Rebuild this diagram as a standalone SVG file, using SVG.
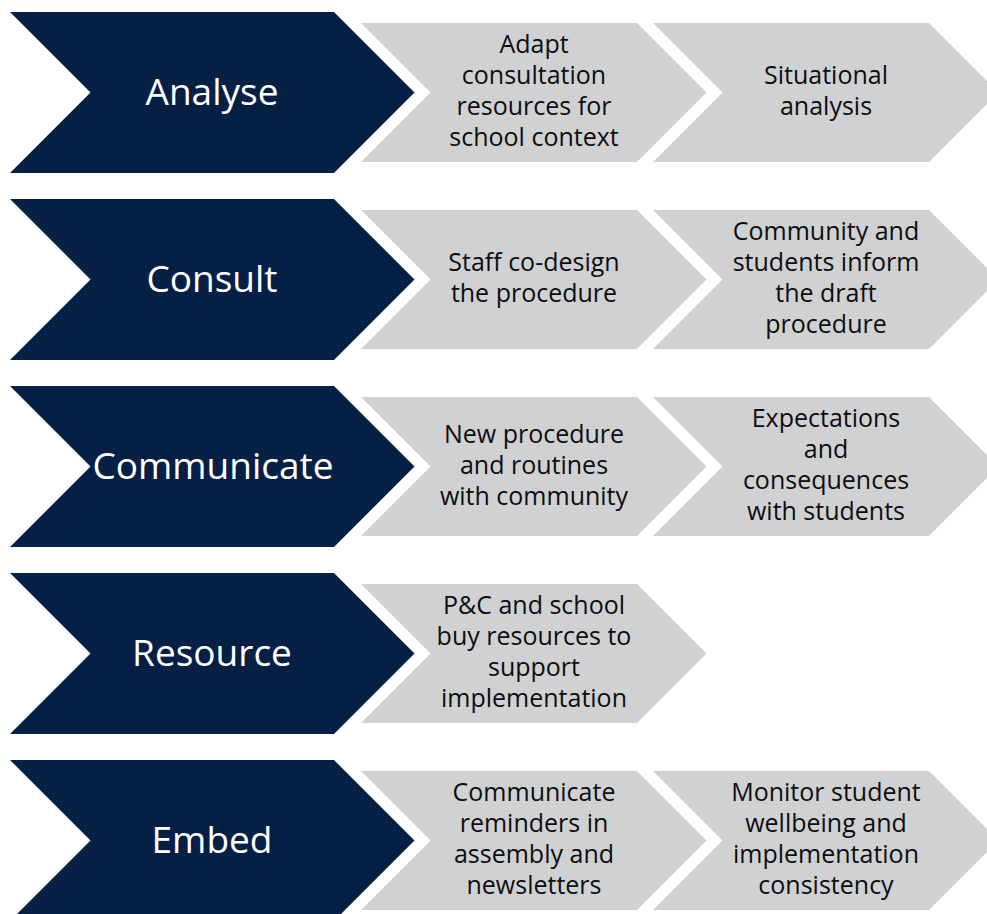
<svg xmlns="http://www.w3.org/2000/svg" width="987" height="914" viewBox="0 0 987 914">
<style>
.navy{fill:#061f45}
.gray{fill:#d0d1d3}
.nt{font-family:"Open Sans","Noto Sans",sans-serif;font-size:37px;fill:#ffffff;text-anchor:middle}
.gt{font-family:"Open Sans","Noto Sans",sans-serif;font-size:25px;fill:#0d0d0d;text-anchor:middle}
</style>
<defs>
<polygon id="nav" points="10,0 334,0 414.5,80.5 334,161 10,161 90.5,80.5"/>
<polygon id="gr" points="0,0 276,0 345.5,69.5 276,139 0,139 69.5,69.5"/>
</defs>
<rect width="987" height="914" fill="#ffffff"/>
<g id="connectors"></g>

<g id="analyse">
<use href="#nav" class="navy" y="12"/>
<text class="nt" x="212" y="105">Analyse</text>
</g>
<g id="adapt">
<use href="#gr" class="gray" x="361" y="23"/>
<text class="gt" x="534"><tspan x="534" y="53">Adapt</tspan><tspan x="534" y="84">consultation</tspan><tspan x="534" y="115">resources for</tspan><tspan x="534" y="146">school context</tspan></text>
</g>
<g id="situational">
<use href="#gr" class="gray" x="653" y="23"/>
<text class="gt" x="826"><tspan x="826" y="84">Situational</tspan><tspan x="826" y="115">analysis</tspan></text>
</g>

<g id="consult">
<use href="#nav" class="navy" y="199"/>
<text class="nt" x="212" y="292">Consult</text>
</g>
<g id="staff">
<use href="#gr" class="gray" x="361" y="210"/>
<text class="gt" x="534"><tspan x="534" y="271">Staff co-design</tspan><tspan x="534" y="302">the procedure</tspan></text>
</g>
<g id="community-inform">
<use href="#gr" class="gray" x="653" y="210"/>
<text class="gt" x="826"><tspan x="826" y="240">Community and</tspan><tspan x="826" y="271">students inform</tspan><tspan x="826" y="302">the draft</tspan><tspan x="826" y="333">procedure</tspan></text>
</g>

<g id="communicate">
<use href="#nav" class="navy" y="386"/>
<text class="nt" x="213" y="479">Communicate</text>
</g>
<g id="new-procedure">
<use href="#gr" class="gray" x="361" y="397"/>
<text class="gt" x="534"><tspan x="534" y="443">New procedure</tspan><tspan x="534" y="474">and routines</tspan><tspan x="534" y="505">with community</tspan></text>
</g>
<g id="expectations">
<use href="#gr" class="gray" x="653" y="397"/>
<text class="gt" x="826"><tspan x="826" y="427">Expectations</tspan><tspan x="826" y="458">and</tspan><tspan x="826" y="489">consequences</tspan><tspan x="826" y="520">with students</tspan></text>
</g>

<g id="resource">
<use href="#nav" class="navy" y="573"/>
<text class="nt" x="212" y="666">Resource</text>
</g>
<g id="pandc">
<use href="#gr" class="gray" x="361" y="584"/>
<text class="gt" x="534"><tspan x="534" y="614">P&amp;C and school</tspan><tspan x="534" y="645">buy resources to</tspan><tspan x="534" y="676">support</tspan><tspan x="534" y="707">implementation</tspan></text>
</g>

<g id="embed">
<use href="#nav" class="navy" y="760"/>
<text class="nt" x="212" y="853">Embed</text>
</g>
<g id="reminders">
<use href="#gr" class="gray" x="361" y="771"/>
<text class="gt" x="534"><tspan x="534" y="801">Communicate</tspan><tspan x="534" y="832">reminders in</tspan><tspan x="534" y="863">assembly and</tspan><tspan x="534" y="894">newsletters</tspan></text>
</g>
<g id="monitor">
<use href="#gr" class="gray" x="653" y="771"/>
<text class="gt" x="826"><tspan x="826" y="801">Monitor student</tspan><tspan x="826" y="832">wellbeing and</tspan><tspan x="826" y="863">implementation</tspan><tspan x="826" y="894">consistency</tspan></text>
</g>
</svg>
